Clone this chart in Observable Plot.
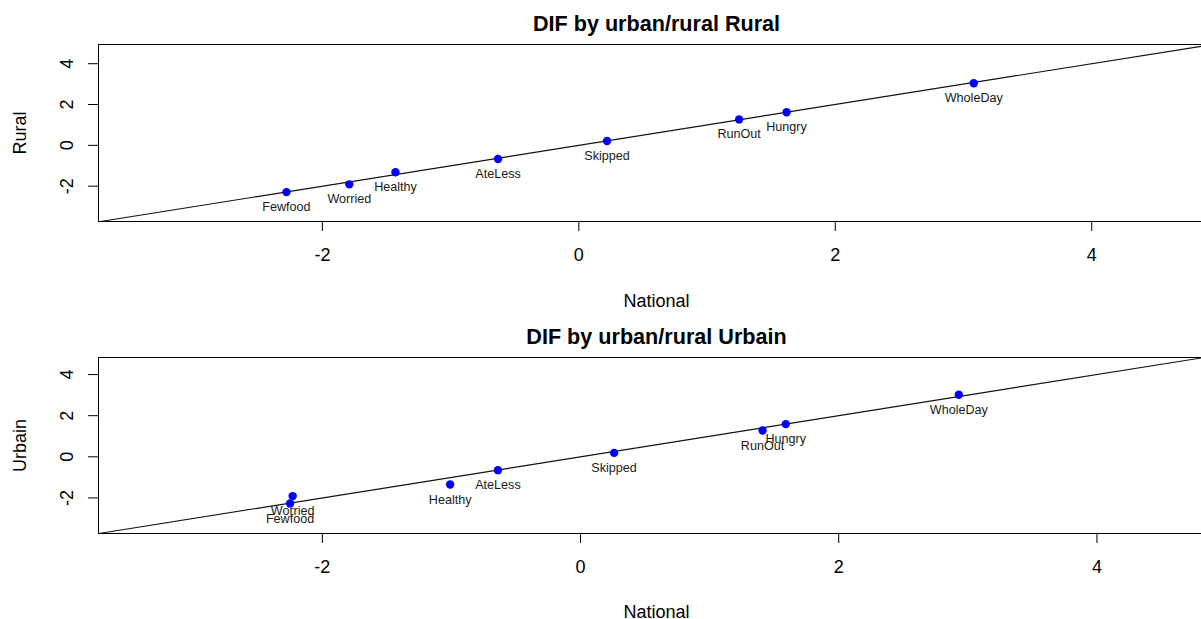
<!DOCTYPE html>
<html>
<head>
<meta charset="utf-8">
<script src="https://cdn.jsdelivr.net/npm/d3@7"></script>
<script src="https://cdn.jsdelivr.net/npm/@observablehq/plot@0.6"></script>
<style>
  html, body { margin: 0; padding: 0; background: #fff; overflow: hidden; }
  svg { display: block; }
</style>
</head>
<body>
<div id="chart"></div>
<script>
const items = ["Fewfood", "Worried", "Healthy", "AteLess", "Skipped", "RunOut", "Hungry", "WholeDay"];
const ruralNational = [-2.28, -1.79, -1.43, -0.63, 0.22, 1.25, 1.62, 3.08];
const ruralValues   = [-2.29, -1.91, -1.32, -0.67, 0.21, 1.27, 1.62, 3.04];
const urbanNational = [-2.25, -2.23, -1.01, -0.64, 0.26, 1.41, 1.59, 2.93];
const urbanValues   = [-2.27, -1.91, -1.35, -0.65, 0.19, 1.28, 1.59, 3.02];
const xTicks = [-2, 0, 2, 4];
const yTicks = [-2, 0, 2, 4];

const panels = [
  {title: "DIF by urban/rural Rural", ylabel: "Rural", nat: ruralNational, val: ruralValues,
   xDomain: [-3.746, 4.856], yDomain: [-3.73, 4.94], height: 312, marginTop: 44, marginBottom: 91, xlabDy: 80},
  {title: "DIF by urban/rural Urbain", ylabel: "Urbain", nat: urbanNational, val: urbanValues,
   xDomain: [-3.734, 4.81], yDomain: [-3.73, 4.83], height: 307, marginTop: 45, marginBottom: 86, xlabDy: 78.5}
];

const font = "'Liberation Sans', Arial, Helvetica, sans-serif";

for (const p of panels) {
  const data = items.map((name, i) => ({name, x: p.nat[i], y: p.val[i]}));
  const diag = [Math.max(p.xDomain[0], p.yDomain[0]), Math.min(p.xDomain[1], p.yDomain[1])];
  const chart = Plot.plot({
    width: 1201,
    height: p.height,
    marginLeft: 98,
    marginRight: 0,
    marginTop: p.marginTop,
    marginBottom: p.marginBottom,
    style: {fontFamily: font, fontSize: "18px", color: "#000", background: "#fff", overflow: "visible"},
    x: {domain: p.xDomain},
    y: {domain: p.yDomain},
    marks: [
      Plot.ruleY([p.yDomain[0], p.yDomain[1]], {stroke: "#000", strokeWidth: 1}),
      Plot.ruleX([p.xDomain[0]], {stroke: "#000", strokeWidth: 1}),
      Plot.axisX({ticks: xTicks, tickSize: 10, tickPadding: 17, tickFormat: d => String(d), label: null, fontSize: 18}),
      Plot.axisY({ticks: yTicks, tickSize: 10, tickPadding: 16, tickRotate: -90, tickFormat: d => String(d), label: null, fontSize: 18}),
      Plot.line(diag, {x: d => d, y: d => d, stroke: "#111", strokeWidth: 1.2}),
      Plot.dot(data, {x: "x", y: "y", r: 4.2, fill: "#0000ff", stroke: "none"}),
      Plot.text(data, {x: "x", y: "y", text: "name", dy: 15, fontSize: 12.6, fill: "#1a1a1a"}),
      Plot.text([p.title], {frameAnchor: "top", lineAnchor: "middle", textAnchor: "middle", dx: 6.5, dy: -20, fontSize: 21.6, fontWeight: "bold", fill: "#000"}),
      Plot.text(["National"], {frameAnchor: "bottom", lineAnchor: "middle", textAnchor: "middle", dx: 6.5, dy: p.xlabDy, fontSize: 18, fill: "#000"}),
      Plot.text([p.ylabel], {frameAnchor: "left", lineAnchor: "middle", textAnchor: "middle", dx: -78.5, rotate: -90, fontSize: 18, fill: "#000"})
    ]
  });
  document.getElementById("chart").appendChild(chart);
}
</script>
</body>
</html>
